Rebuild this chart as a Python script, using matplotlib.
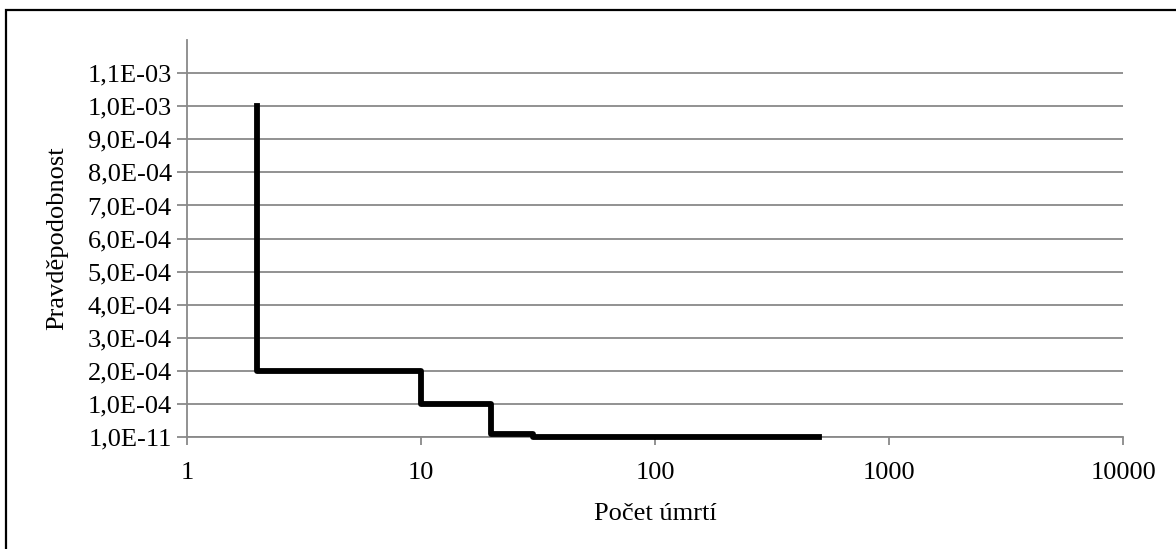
import matplotlib.pyplot as plt
from matplotlib.patches import Rectangle
from matplotlib.ticker import FixedLocator, FuncFormatter, NullLocator

plt.rcParams['font.family'] = ['Liberation Serif', 'DejaVu Serif']

# step data: number of deaths vs probability
deaths = [2, 2, 10, 20, 30, 500]
prob = [1.0e-3, 2.0e-4, 1.0e-4, 1.0e-5, 1.0e-6, 1.0e-6]

y_ticks = [1e-11, 1e-4, 2e-4, 3e-4, 4e-4, 5e-4, 6e-4, 7e-4, 8e-4, 9e-4, 1.0e-3, 1.1e-3]
x_ticks = [1, 10, 100, 1000, 10000]

grid_col = '#898989'


def fmt_sci(v, pos):
    return f"{v:.1E}".replace('.', ',')


fig = plt.figure(figsize=(11.76, 5.49), dpi=100)
ax = fig.add_axes([0.159, 0.204, 0.796, 0.723])

ax.step(deaths, prob, where='post', color='black', lw=4.2, clip_on=False, zorder=3)

ax.set_xscale('log')
ax.set_xlim(1, 10000)
ax.set_ylim(0, 1.2e-3)
ax.xaxis.set_major_locator(FixedLocator(x_ticks))
ax.xaxis.set_minor_locator(NullLocator())
ax.xaxis.set_major_formatter(FuncFormatter(lambda v, p: f"{int(v)}"))
ax.yaxis.set_major_locator(FixedLocator(y_ticks))
ax.yaxis.set_major_formatter(FuncFormatter(fmt_sci))

ax.grid(axis='y', color=grid_col, lw=1.3)
ax.set_axisbelow(True)
for s in ['top', 'right']:
    ax.spines[s].set_visible(False)
for s in ['left', 'bottom']:
    ax.spines[s].set_color(grid_col)
    ax.spines[s].set_linewidth(1.3)
ax.tick_params(axis='both', colors=grid_col, labelcolor='black', labelsize=19, width=1.3)
ax.tick_params(axis='y', length=7, pad=4)
ax.tick_params(axis='x', length=6, pad=12)

ax.set_xlabel('Počet úmrtí', fontsize=19, labelpad=14)
ax.set_ylabel('Pravděpodobnost', fontsize=19, labelpad=14)

# outer chart border
fig.patches.append(Rectangle((6 / 1176, -0.05), 1.1, 1 - 10 / 549 + 0.05,
                             transform=fig.transFigure, fill=False,
                             edgecolor='black', lw=1.6))

fig.savefig('out.png', dpi=100, facecolor='white')
